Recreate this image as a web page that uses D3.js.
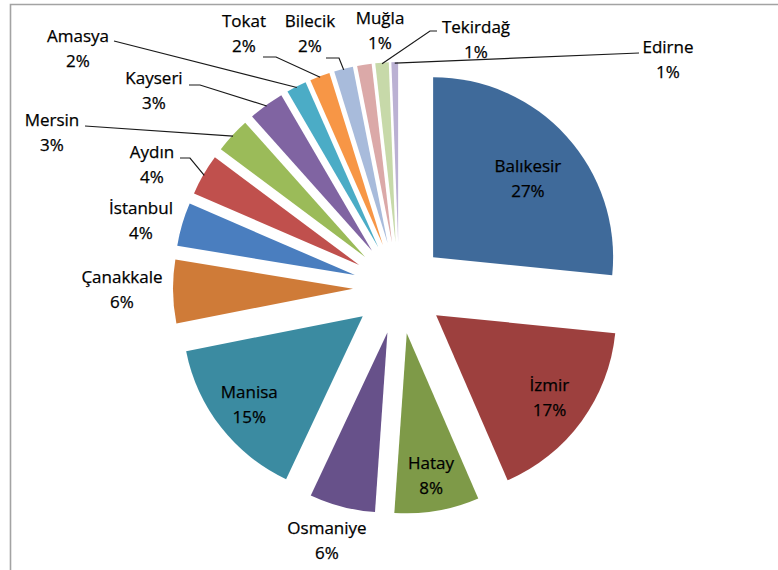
<!DOCTYPE html>
<html>
<head>
<meta charset="utf-8">
<script src="https://cdn.jsdelivr.net/npm/d3@7"></script>
<style>
  html, body { margin: 0; padding: 0; background: #fff; }
  svg { display: block; }
  text { font-family: "Open Sans", "DejaVu Sans", sans-serif; font-size: 17px; fill: #000;
         stroke: #000; stroke-width: 0.25px; }
</style>
</head>
<body>
<svg id="chart" width="778" height="570"></svg>
<script>
// Share of each province (percent)
const categories = ["Balıkesir", "İzmir", "Hatay", "Osmaniye", "Manisa", "Çanakkale",
  "İstanbul", "Aydın", "Mersin", "Kayseri", "Amasya", "Tokat", "Bilecik", "Muğla",
  "Tekirdağ", "Edirne"];
const values = [26.6, 16.9, 7.6, 5.9, 14.9, 5.7, 3.9, 3.7, 3.2, 3.2, 1.8, 1.8, 1.7, 1.3, 1.2, 0.6];
const colors = ["#3f6a9a", "#9d403e", "#7e9a48", "#67518a", "#3b8ba1", "#cf7b38",
  "#4a7ebf", "#c0504d", "#9bbb59", "#8064a2", "#4bacc6", "#f79646",
  "#a8bbdb", "#dba9a8", "#c7d9a9", "#bbb1d3"];

// Label placement: inside labels sit on the slice bisector (fraction of radius)
// with a small nudge, outside labels are placed beside the pie with optional leader lines.
const insideLabels = {
  "Balıkesir": { r: 0.68, dx: 4, dy: 3 },
  "İzmir": { r: 0.78, dx: 0, dy: 0 },
  "Hatay": { r: 0.8, dx: 0, dy: 0 },
  "Manisa": { r: 0.8, dx: 0, dy: 0 }
};
const outsideLabels = {
  "Osmaniye": { x: 327, y: 528 },
  "Çanakkale": { x: 122, y: 277 },
  "İstanbul": { x: 141, y: 208 },
  "Aydın": { x: 152, y: 152, lead: [[180, 158], [190, 158]] },
  "Mersin": { x: 52, y: 120, lead: [[85, 126]] },
  "Kayseri": { x: 154, y: 78, lead: [[189, 85], [200, 85]] },
  "Amasya": { x: 78, y: 36, lead: [[114, 41]] },
  "Tokat": { x: 244, y: 21, lead: [[263, 57], [276, 57]] },
  "Bilecik": { x: 310, y: 21, lead: [[326, 58], [339, 58]] },
  "Muğla": { x: 380, y: 18 },
  "Tekirdağ": { x: 476, y: 27, lead: [[437, 31], [430, 31]] },
  "Edirne": { x: 668, y: 47, lead: [[639, 53]] }
};

const svg = d3.select("#chart");
const cx = 399, cy = 288, R = 180, explode = 46, lineGap = 25;

// chart frame
svg.append("path")
  .attr("d", "M10.5,570 L10.5,4.5 L778,4.5")
  .attr("fill", "none")
  .attr("stroke", "#a3a3a3")
  .attr("stroke-width", 1.6);

const total = d3.sum(values);
const data = categories.map((c, i) => ({ name: c, value: values[i], color: colors[i] }));
const pie = d3.pie().sort(null).value(d => d.value).startAngle(0).endAngle(2 * Math.PI);
const arcs = pie(data);
const arc = d3.arc().innerRadius(0).outerRadius(R);

const dir = a => [Math.sin(a), -Math.cos(a)];
const mid = d => (d.startAngle + d.endAngle) / 2;
const apex = d => { const [ux, uy] = dir(mid(d)); return [cx + ux * explode, cy + uy * explode]; };

const g = svg.append("g");
g.selectAll("path.slice")
  .data(arcs)
  .join("path")
  .attr("class", "slice")
  .attr("d", arc)
  .attr("fill", d => d.data.color)
  .attr("transform", d => { const p = apex(d); return `translate(${p[0]},${p[1]})`; });

const pct = d => Math.round(d.data.value / total * 100) + "%";

// leader lines
arcs.forEach(d => {
  const L = outsideLabels[d.data.name];
  if (!L || !L.lead) return;
  const p = apex(d), [ux, uy] = dir(mid(d));
  const end = [p[0] + ux * (R - 1), p[1] + uy * (R - 1)];
  const pts = L.lead.concat([end]);
  svg.append("path")
    .attr("d", d3.line()(pts))
    .attr("fill", "none")
    .attr("stroke", "#1a1a1a")
    .attr("stroke-width", 1.2);
});

// labels
arcs.forEach(d => {
  const name = d.data.name;
  let x, y;
  const inside = insideLabels[name];
  if (inside) {
    const p = apex(d), [ux, uy] = dir(mid(d)), r = R * inside.r;
    x = p[0] + ux * r + inside.dx; y = p[1] + uy * r - lineGap / 2 + inside.dy;
  } else {
    x = outsideLabels[name].x; y = outsideLabels[name].y;
  }
  const t = svg.append("text").attr("text-anchor", "middle");
  t.append("tspan").attr("x", x).attr("y", y).attr("dy", "0.35em").text(name);
  t.append("tspan").attr("x", x).attr("y", y + lineGap).attr("dy", "0.35em").text(pct(d));
});
</script>
</body>
</html>
